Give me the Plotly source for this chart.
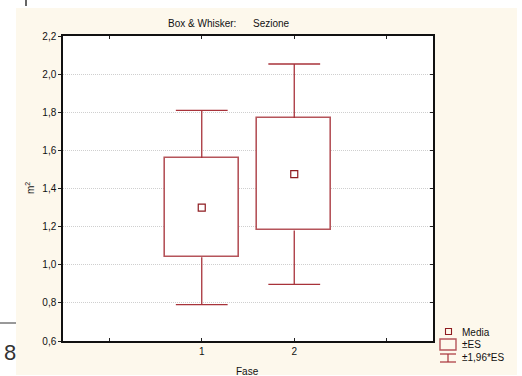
import plotly.graph_objects as go

# Group means and standard errors of "Sezione" by "Fase"
categories = ["1", "2"]
means = [1.30, 1.475]
std_errors = [0.26, 0.295]
ci_factor = 1.96

y_ticks = [0.6, 0.8, 1.0, 1.2, 1.4, 1.6, 1.8, 2.0, 2.2]

W, H = 522, 376
L, R, T, B = 63, 89, 36, 35
PW, PH = W - L - R, H - T - B


def px(x):
    return (x - L) / PW


def py(y):
    return (H - B - y) / PH


BOX_LINE = "#B5545A"
WHISKER = "#A8323A"
MEAN_COL = "#8E1C20"

xpos = [i + 1 for i in range(len(categories))]
box_lo = [m - s for m, s in zip(means, std_errors)]
box_hi = [m + s for m, s in zip(means, std_errors)]
ci_lo = [m - ci_factor * s for m, s in zip(means, std_errors)]
ci_hi = [m + ci_factor * s for m, s in zip(means, std_errors)]
cap = 0.28

fig = go.Figure()

# whisker stems and caps
wx, wy = [], []
for x, bl, bh, cl, ch in zip(xpos, box_lo, box_hi, ci_lo, ci_hi):
    wx += [x, x, None, x, x, None, x - cap, x + cap, None, x - cap, x + cap, None]
    wy += [bh, ch, None, bl, cl, None, ch, ch, None, cl, cl, None]
fig.add_trace(go.Scatter(x=wx, y=wy, mode="lines",
                         line=dict(color=WHISKER, width=1.3),
                         hoverinfo="skip", showlegend=False))

# ±SE boxes
fig.add_trace(go.Bar(x=xpos, y=[h - l for l, h in zip(box_lo, box_hi)], base=box_lo,
                     width=0.8, marker=dict(color="white",
                                            line=dict(color=BOX_LINE, width=1.6)),
                     showlegend=False))

# means
fig.add_trace(go.Scatter(x=xpos, y=means, mode="markers",
                         marker=dict(symbol="square-open", size=7, color=MEAN_COL,
                                     line=dict(width=1.2, color=MEAN_COL)),
                         showlegend=False))

# invisible trace carrying the right-hand tick marks
fig.add_trace(go.Scatter(x=[None], y=[None], yaxis="y2", showlegend=False, hoverinfo="skip"))

shapes = [
    # cream panel and white plotting area
    dict(type="rect", xref="paper", yref="paper", x0=px(16), x1=px(517), y0=py(375), y1=py(8),
         fillcolor="#FDF8EC", line=dict(width=0), layer="below"),
    dict(type="rect", xref="paper", yref="paper", x0=0, x1=1, y0=0, y1=1,
         fillcolor="white", line=dict(width=0), layer="below"),
    # stray page lines
    dict(type="line", xref="paper", yref="paper", x0=px(0), x1=px(16), y0=py(323), y1=py(323),
         line=dict(color="#333333", width=1)),
    dict(type="line", xref="paper", yref="paper", x0=px(26), x1=px(26), y0=py(0), y1=py(6),
         line=dict(color="#666666", width=2)),
    # legend symbols
    dict(type="rect", xref="paper", yref="paper", x0=px(445.5), x1=px(451.5), y0=py(334.5), y1=py(328.5),
         line=dict(color=MEAN_COL, width=1.1)),
    dict(type="rect", xref="paper", yref="paper", x0=px(440), x1=px(456), y0=py(350), y1=py(339),
         line=dict(color=BOX_LINE, width=1.4)),
    dict(type="line", xref="paper", yref="paper", x0=px(440), x1=px(456), y0=py(354), y1=py(354),
         line=dict(color=WHISKER, width=1.2)),
    dict(type="line", xref="paper", yref="paper", x0=px(448), x1=px(448), y0=py(354), y1=py(362),
         line=dict(color=WHISKER, width=1.2)),
    dict(type="line", xref="paper", yref="paper", x0=px(440), x1=px(456), y0=py(362), y1=py(362),
         line=dict(color=WHISKER, width=1.2)),
]

font = "Liberation Sans, Arial, sans-serif"
annotations = [
    dict(text="Box & Whisker:      Sezione", x=px(229), y=py(23), xref="paper", yref="paper",
         showarrow=False, font=dict(size=10, color="#111111"), xanchor="center", yanchor="middle"),
    dict(text="m<sup>2</sup>", x=px(30), y=py(188), xref="paper", yref="paper", textangle=-90,
         showarrow=False, font=dict(size=10, color="#111111"), xanchor="center", yanchor="middle"),
    dict(text="Fase", x=px(247), y=py(371), xref="paper", yref="paper",
         showarrow=False, font=dict(size=10, color="#111111"), xanchor="center", yanchor="middle"),
    dict(text="Media", x=px(460), y=py(332), xref="paper", yref="paper",
         showarrow=False, font=dict(size=10, color="#111111"), xanchor="left", yanchor="middle"),
    dict(text="±ES", x=px(460), y=py(344), xref="paper", yref="paper",
         showarrow=False, font=dict(size=10, color="#111111"), xanchor="left", yanchor="middle"),
    dict(text="±1,96*ES", x=px(460), y=py(357), xref="paper", yref="paper",
         showarrow=False, font=dict(size=10, color="#111111"), xanchor="left", yanchor="middle"),
    dict(text="8", x=px(10), y=py(352), xref="paper", yref="paper",
         showarrow=False, font=dict(size=22, color="#333333"), xanchor="center", yanchor="middle"),
]

fig.update_layout(
    width=W, height=H, margin=dict(l=L, r=R, t=T, b=B),
    paper_bgcolor="white", plot_bgcolor="white",
    separators=", ", font=dict(family=font, size=10, color="#111111"),
    shapes=shapes, annotations=annotations, showlegend=False, bargap=0,
    xaxis=dict(range=[-0.5, 3.5], tickvals=xpos, ticktext=categories,
               ticks="inside", ticklen=3, tickcolor="#222222", showline=True, linecolor="#111111",
               linewidth=1.5, mirror="ticks", showgrid=False, zeroline=False, fixedrange=True,
               minor=dict(dtick=1, tick0=0, ticks="inside", ticklen=3, tickcolor="#222222",
                          showgrid=False)),
    yaxis=dict(range=[0.6, 2.2], tickvals=y_ticks, tickformat=".1f", ticks="outside", ticklen=3,
               tickcolor="#222222", showline=True, linecolor="#111111", linewidth=1.5, mirror=True,
               showgrid=True, gridcolor="#CFCFCF", griddash="1px,1px", gridwidth=1, zeroline=False,
               fixedrange=True),
    yaxis2=dict(range=[0.6, 2.2], tickvals=y_ticks, overlaying="y", side="right", ticks="inside",
                ticklen=3, tickcolor="#222222", showticklabels=False, showgrid=False,
                zeroline=False, showline=False, fixedrange=True),
)

fig.write_html("out.html")
